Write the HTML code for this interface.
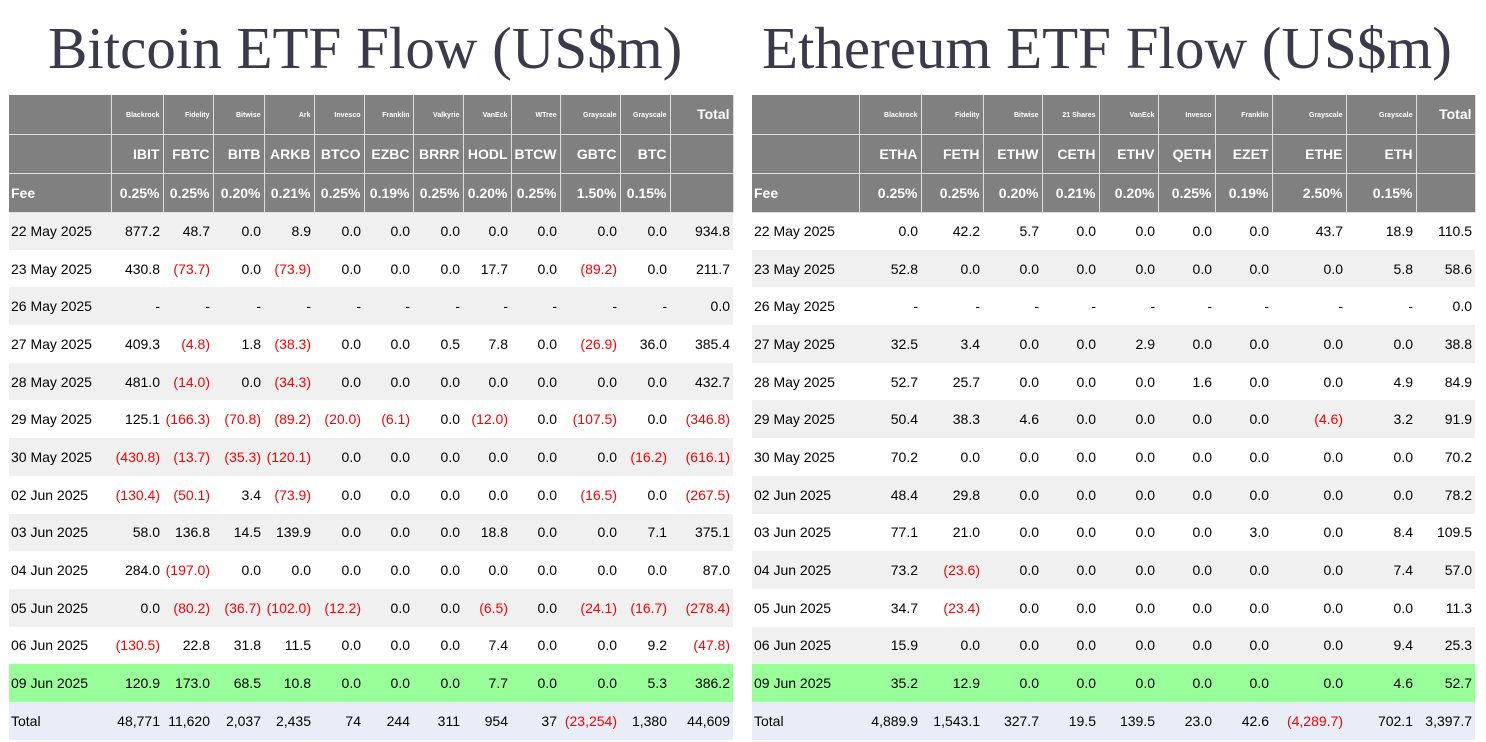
<!DOCTYPE html>
<html><head><meta charset="utf-8"><style>
body{margin:0;width:1486px;height:742px;background:#fff;position:relative;overflow:hidden;font-family:"Liberation Sans",Arial,sans-serif}
.t{position:absolute;top:10px;font-family:"Liberation Serif",serif;font-size:59px;color:#3a3a4c;white-space:nowrap;line-height:76px}
table{position:absolute;top:95px;border-collapse:collapse;table-layout:fixed;font-size:14px}
td{padding:0 3px 0 0;text-align:right;white-space:nowrap;overflow:hidden;color:#000;line-height:16px;vertical-align:middle}
tr.h td{background:#808080;color:#fff;font-weight:bold;border-right:1px solid #ddd;border-bottom:1px solid #ddd}
tr.h{height:39px}
tr.h1 td{font-size:7px;line-height:8px;padding-top:4px}
tr.h1 td.tot{font-size:14px;line-height:16px;padding-top:0}
tr.d{height:37.7px}
td:first-child{text-align:left;padding-left:2px}
tr.g td{background:#f0f0f0}
tr.gr td{background:#99ff99}
tr.tt td{background:#e9edf7}
.n{color:#f00}
</style></head><body>
<div class="t" style="left:48px">Bitcoin ETF Flow (US$m)</div>
<div class="t" style="left:762px">Ethereum ETF Flow (US$m)</div>
<table style="left:9px;width:724px">
<colgroup><col style="width:102px"><col style="width:52px"><col style="width:50px"><col style="width:51px"><col style="width:50px"><col style="width:50px"><col style="width:49px"><col style="width:50px"><col style="width:48px"><col style="width:49px"><col style="width:60px"><col style="width:50px"><col style="width:63px"></colgroup>
<tr class="h h1"><td></td><td>Blackrock</td><td>Fidelity</td><td>Bitwise</td><td>Ark</td><td>Invesco</td><td>Franklin</td><td>Valkyrie</td><td>VanEck</td><td>WTree</td><td>Grayscale</td><td>Grayscale</td><td class="tot">Total</td></tr>
<tr class="h h2"><td></td><td>IBIT</td><td>FBTC</td><td>BITB</td><td>ARKB</td><td>BTCO</td><td>EZBC</td><td>BRRR</td><td>HODL</td><td>BTCW</td><td>GBTC</td><td>BTC</td><td></td></tr>
<tr class="h h3"><td>Fee</td><td>0.25%</td><td>0.25%</td><td>0.20%</td><td>0.21%</td><td>0.25%</td><td>0.19%</td><td>0.25%</td><td>0.20%</td><td>0.25%</td><td>1.50%</td><td>0.15%</td><td></td></tr>
<tr class="d g"><td>22 May 2025</td><td>877.2</td><td>48.7</td><td>0.0</td><td>8.9</td><td>0.0</td><td>0.0</td><td>0.0</td><td>0.0</td><td>0.0</td><td>0.0</td><td>0.0</td><td>934.8</td></tr>
<tr class="d"><td>23 May 2025</td><td>430.8</td><td class="n">(73.7)</td><td>0.0</td><td class="n">(73.9)</td><td>0.0</td><td>0.0</td><td>0.0</td><td>17.7</td><td>0.0</td><td class="n">(89.2)</td><td>0.0</td><td>211.7</td></tr>
<tr class="d g"><td>26 May 2025</td><td>-</td><td>-</td><td>-</td><td>-</td><td>-</td><td>-</td><td>-</td><td>-</td><td>-</td><td>-</td><td>-</td><td>0.0</td></tr>
<tr class="d"><td>27 May 2025</td><td>409.3</td><td class="n">(4.8)</td><td>1.8</td><td class="n">(38.3)</td><td>0.0</td><td>0.0</td><td>0.5</td><td>7.8</td><td>0.0</td><td class="n">(26.9)</td><td>36.0</td><td>385.4</td></tr>
<tr class="d g"><td>28 May 2025</td><td>481.0</td><td class="n">(14.0)</td><td>0.0</td><td class="n">(34.3)</td><td>0.0</td><td>0.0</td><td>0.0</td><td>0.0</td><td>0.0</td><td>0.0</td><td>0.0</td><td>432.7</td></tr>
<tr class="d"><td>29 May 2025</td><td>125.1</td><td class="n">(166.3)</td><td class="n">(70.8)</td><td class="n">(89.2)</td><td class="n">(20.0)</td><td class="n">(6.1)</td><td>0.0</td><td class="n">(12.0)</td><td>0.0</td><td class="n">(107.5)</td><td>0.0</td><td class="n">(346.8)</td></tr>
<tr class="d g"><td>30 May 2025</td><td class="n">(430.8)</td><td class="n">(13.7)</td><td class="n">(35.3)</td><td class="n">(120.1)</td><td>0.0</td><td>0.0</td><td>0.0</td><td>0.0</td><td>0.0</td><td>0.0</td><td class="n">(16.2)</td><td class="n">(616.1)</td></tr>
<tr class="d"><td>02 Jun 2025</td><td class="n">(130.4)</td><td class="n">(50.1)</td><td>3.4</td><td class="n">(73.9)</td><td>0.0</td><td>0.0</td><td>0.0</td><td>0.0</td><td>0.0</td><td class="n">(16.5)</td><td>0.0</td><td class="n">(267.5)</td></tr>
<tr class="d g"><td>03 Jun 2025</td><td>58.0</td><td>136.8</td><td>14.5</td><td>139.9</td><td>0.0</td><td>0.0</td><td>0.0</td><td>18.8</td><td>0.0</td><td>0.0</td><td>7.1</td><td>375.1</td></tr>
<tr class="d"><td>04 Jun 2025</td><td>284.0</td><td class="n">(197.0)</td><td>0.0</td><td>0.0</td><td>0.0</td><td>0.0</td><td>0.0</td><td>0.0</td><td>0.0</td><td>0.0</td><td>0.0</td><td>87.0</td></tr>
<tr class="d g"><td>05 Jun 2025</td><td>0.0</td><td class="n">(80.2)</td><td class="n">(36.7)</td><td class="n">(102.0)</td><td class="n">(12.2)</td><td>0.0</td><td>0.0</td><td class="n">(6.5)</td><td>0.0</td><td class="n">(24.1)</td><td class="n">(16.7)</td><td class="n">(278.4)</td></tr>
<tr class="d"><td>06 Jun 2025</td><td class="n">(130.5)</td><td>22.8</td><td>31.8</td><td>11.5</td><td>0.0</td><td>0.0</td><td>0.0</td><td>7.4</td><td>0.0</td><td>0.0</td><td>9.2</td><td class="n">(47.8)</td></tr>
<tr class="d gr"><td>09 Jun 2025</td><td>120.9</td><td>173.0</td><td>68.5</td><td>10.8</td><td>0.0</td><td>0.0</td><td>0.0</td><td>7.7</td><td>0.0</td><td>0.0</td><td>5.3</td><td>386.2</td></tr>
<tr class="d tt"><td>Total</td><td>48,771</td><td>11,620</td><td>2,037</td><td>2,435</td><td>74</td><td>244</td><td>311</td><td>954</td><td>37</td><td class="n">(23,254)</td><td>1,380</td><td>44,609</td></tr>
</table>
<table style="left:752px;width:723px">
<colgroup><col style="width:107px"><col style="width:62px"><col style="width:62px"><col style="width:59px"><col style="width:57px"><col style="width:59px"><col style="width:57px"><col style="width:57px"><col style="width:74px"><col style="width:70px"><col style="width:59px"></colgroup>
<tr class="h h1"><td></td><td>Blackrock</td><td>Fidelity</td><td>Bitwise</td><td>21 Shares</td><td>VanEck</td><td>Invesco</td><td>Franklin</td><td>Grayscale</td><td>Grayscale</td><td class="tot">Total</td></tr>
<tr class="h h2"><td></td><td>ETHA</td><td>FETH</td><td>ETHW</td><td>CETH</td><td>ETHV</td><td>QETH</td><td>EZET</td><td>ETHE</td><td>ETH</td><td></td></tr>
<tr class="h h3"><td>Fee</td><td>0.25%</td><td>0.25%</td><td>0.20%</td><td>0.21%</td><td>0.20%</td><td>0.25%</td><td>0.19%</td><td>2.50%</td><td>0.15%</td><td></td></tr>
<tr class="d"><td>22 May 2025</td><td>0.0</td><td>42.2</td><td>5.7</td><td>0.0</td><td>0.0</td><td>0.0</td><td>0.0</td><td>43.7</td><td>18.9</td><td>110.5</td></tr>
<tr class="d g"><td>23 May 2025</td><td>52.8</td><td>0.0</td><td>0.0</td><td>0.0</td><td>0.0</td><td>0.0</td><td>0.0</td><td>0.0</td><td>5.8</td><td>58.6</td></tr>
<tr class="d"><td>26 May 2025</td><td>-</td><td>-</td><td>-</td><td>-</td><td>-</td><td>-</td><td>-</td><td>-</td><td>-</td><td>0.0</td></tr>
<tr class="d g"><td>27 May 2025</td><td>32.5</td><td>3.4</td><td>0.0</td><td>0.0</td><td>2.9</td><td>0.0</td><td>0.0</td><td>0.0</td><td>0.0</td><td>38.8</td></tr>
<tr class="d"><td>28 May 2025</td><td>52.7</td><td>25.7</td><td>0.0</td><td>0.0</td><td>0.0</td><td>1.6</td><td>0.0</td><td>0.0</td><td>4.9</td><td>84.9</td></tr>
<tr class="d g"><td>29 May 2025</td><td>50.4</td><td>38.3</td><td>4.6</td><td>0.0</td><td>0.0</td><td>0.0</td><td>0.0</td><td class="n">(4.6)</td><td>3.2</td><td>91.9</td></tr>
<tr class="d"><td>30 May 2025</td><td>70.2</td><td>0.0</td><td>0.0</td><td>0.0</td><td>0.0</td><td>0.0</td><td>0.0</td><td>0.0</td><td>0.0</td><td>70.2</td></tr>
<tr class="d g"><td>02 Jun 2025</td><td>48.4</td><td>29.8</td><td>0.0</td><td>0.0</td><td>0.0</td><td>0.0</td><td>0.0</td><td>0.0</td><td>0.0</td><td>78.2</td></tr>
<tr class="d"><td>03 Jun 2025</td><td>77.1</td><td>21.0</td><td>0.0</td><td>0.0</td><td>0.0</td><td>0.0</td><td>3.0</td><td>0.0</td><td>8.4</td><td>109.5</td></tr>
<tr class="d g"><td>04 Jun 2025</td><td>73.2</td><td class="n">(23.6)</td><td>0.0</td><td>0.0</td><td>0.0</td><td>0.0</td><td>0.0</td><td>0.0</td><td>7.4</td><td>57.0</td></tr>
<tr class="d"><td>05 Jun 2025</td><td>34.7</td><td class="n">(23.4)</td><td>0.0</td><td>0.0</td><td>0.0</td><td>0.0</td><td>0.0</td><td>0.0</td><td>0.0</td><td>11.3</td></tr>
<tr class="d g"><td>06 Jun 2025</td><td>15.9</td><td>0.0</td><td>0.0</td><td>0.0</td><td>0.0</td><td>0.0</td><td>0.0</td><td>0.0</td><td>9.4</td><td>25.3</td></tr>
<tr class="d gr"><td>09 Jun 2025</td><td>35.2</td><td>12.9</td><td>0.0</td><td>0.0</td><td>0.0</td><td>0.0</td><td>0.0</td><td>0.0</td><td>4.6</td><td>52.7</td></tr>
<tr class="d tt"><td>Total</td><td>4,889.9</td><td>1,543.1</td><td>327.7</td><td>19.5</td><td>139.5</td><td>23.0</td><td>42.6</td><td class="n">(4,289.7)</td><td>702.1</td><td>3,397.7</td></tr>
</table>
</body></html>
